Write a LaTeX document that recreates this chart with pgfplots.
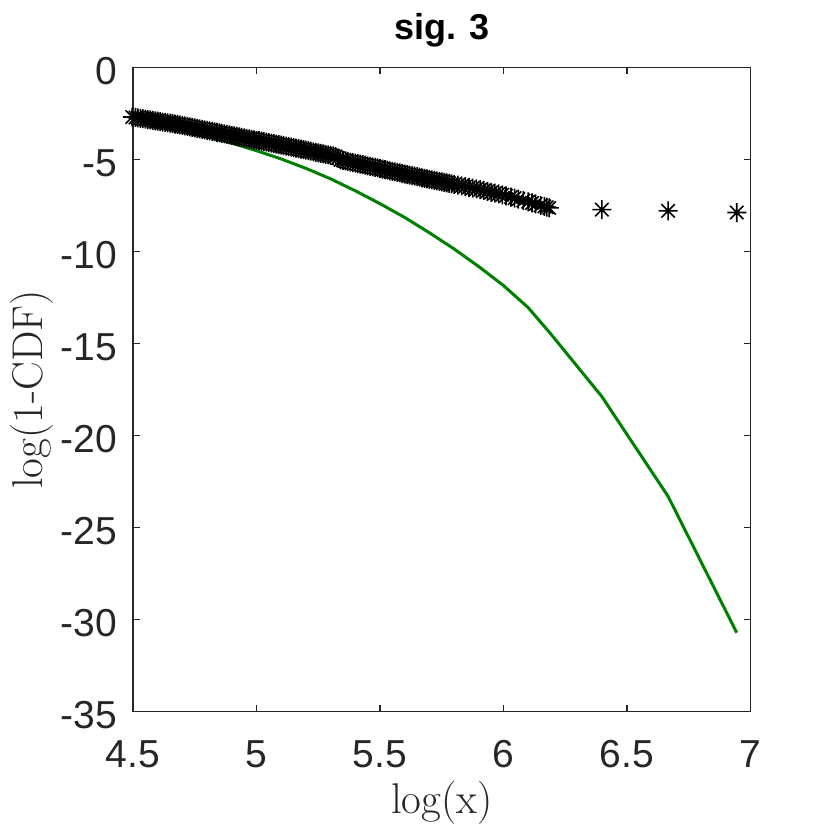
\documentclass[border=0pt]{standalone}
\usepackage{pgfplots}
\pgfplotsset{compat=1.18}
\usepackage{fontspec}
\newfontfamily\arial{Liberation Sans}
\definecolor{axgray}{RGB}{38,38,38}
\definecolor{mgreen}{RGB}{0,128,0}
\pgfdeclareplotmark{mstar}{%
 \pgfpathmoveto{\pgfqpoint{0pt}{\pgfplotmarksize}}\pgfpathlineto{\pgfqpoint{0pt}{-\pgfplotmarksize}}%
 \pgfpathmoveto{\pgfqpoint{\pgfplotmarksize}{0pt}}\pgfpathlineto{\pgfqpoint{-\pgfplotmarksize}{0pt}}%
 \pgfpathmoveto{\pgfqpoint{0.7\pgfplotmarksize}{0.7\pgfplotmarksize}}\pgfpathlineto{\pgfqpoint{-0.7\pgfplotmarksize}{-0.7\pgfplotmarksize}}%
 \pgfpathmoveto{\pgfqpoint{-0.7\pgfplotmarksize}{0.7\pgfplotmarksize}}\pgfpathlineto{\pgfqpoint{0.7\pgfplotmarksize}{-0.7\pgfplotmarksize}}%
 \pgfusepathqstroke}
\begin{document}
\begin{tikzpicture}
\begin{axis}[
 at={(0,0)}, anchor=south west,
 scale only axis, width=308.8bp, height=322.1bp,
 xmin=4.5, xmax=7, ymin=-35, ymax=0,
 clip=false,
 xtick={4.5,5,5.5,6,6.5,7}, xticklabels={4.5,5,5.5,6,6.5,7},
 ytick={-35,-30,-25,-20,-15,-10,-5,0}, yticklabels={-35,-30,-25,-20,-15,-10,-5,0},
 tick align=inside, xtick pos=both, ytick pos=both,
 major tick length=3.3bp,
 axis line style={axgray, line width=0.65bp},
 every tick/.style={axgray, line width=0.65bp},
 tick label style={font=\arial\fontsize{19.5bp}{23bp}\selectfont, text=axgray},
 xticklabel style={anchor=base, yshift=-27.8bp},
 yticklabel style={anchor=east, inner sep=0pt, xshift=-7.65bp, yshift=-1.8bp},
 title={sig. 3},
 title style={font=\arial\bfseries\fontsize{18bp}{21bp}\selectfont, at={(axis description cs:0.5,1)}, anchor=base, yshift=8bp, inner sep=0pt},
 xlabel={log(x)},
 ylabel={log(1-CDF)},
 xlabel style={font=\fontsize{21.5bp}{25bp}\selectfont, text=axgray, at={(axis description cs:0.5,-0.1573)}, anchor=base, inner sep=0pt},
 ylabel style={font=\fontsize{21.5bp}{25bp}\selectfont, text=axgray, at={(axis description cs:-0.1462,0.5)}, anchor=base, inner sep=0pt},
]
\addplot[only marks, mark=mstar, mark size=4.75bp, mark options={line width=0.8bp, black}] table {
x y
4.497 -2.690
4.51 -2.713
4.52 -2.735
4.53 -2.758
4.54 -2.781
4.55 -2.803
4.56 -2.826
4.57 -2.848
4.58 -2.871
4.59 -2.894
4.60 -2.916
4.61 -2.939
4.62 -2.962
4.63 -2.984
4.64 -3.007
4.65 -3.029
4.66 -3.052
4.67 -3.075
4.68 -3.097
4.69 -3.120
4.70 -3.147
4.71 -3.174
4.72 -3.201
4.73 -3.229
4.74 -3.256
4.75 -3.283
4.76 -3.310
4.77 -3.337
4.78 -3.364
4.79 -3.391
4.80 -3.419
4.81 -3.446
4.82 -3.473
4.83 -3.500
4.84 -3.527
4.85 -3.554
4.86 -3.581
4.87 -3.609
4.88 -3.636
4.89 -3.663
4.90 -3.690
4.91 -3.716
4.92 -3.743
4.93 -3.769
4.94 -3.795
4.95 -3.821
4.96 -3.848
4.97 -3.874
4.98 -3.900
4.99 -3.926
5.00 -3.953
5.01 -3.979
5.02 -4.005
5.03 -4.031
5.04 -4.058
5.05 -4.084
5.06 -4.110
5.07 -4.138
5.08 -4.165
5.09 -4.193
5.10 -4.220
5.11 -4.248
5.12 -4.275
5.13 -4.303
5.14 -4.330
5.15 -4.358
5.16 -4.385
5.17 -4.413
5.18 -4.440
5.19 -4.468
5.20 -4.495
5.21 -4.523
5.22 -4.550
5.23 -4.578
5.24 -4.606
5.25 -4.634
5.26 -4.662
5.27 -4.690
5.28 -4.718
5.29 -4.746
5.30 -4.774
5.31 -4.802
5.32 -4.830
5.33 -4.930
5.34 -5.020
5.35 -5.049
5.36 -5.078
5.37 -5.107
5.38 -5.136
5.39 -5.165
5.40 -5.194
5.41 -5.223
5.42 -5.252
5.43 -5.281
5.44 -5.310
5.45 -5.340
5.46 -5.370
5.47 -5.400
5.48 -5.430
5.49 -5.460
5.50 -5.490
5.51 -5.520
5.52 -5.550
5.53 -5.580
5.54 -5.610
5.55 -5.640
5.56 -5.670
5.57 -5.700
5.58 -5.730
5.59 -5.760
5.60 -5.790
5.61 -5.820
5.62 -5.850
5.63 -5.880
5.64 -5.908
5.65 -5.935
5.66 -5.963
5.67 -5.991
5.68 -6.018
5.69 -6.046
5.70 -6.074
5.71 -6.101
5.72 -6.129
5.73 -6.157
5.74 -6.184
5.75 -6.212
5.76 -6.240
5.77 -6.267
5.78 -6.295
5.79 -6.323
5.80 -6.350
5.815 -6.39
5.83 -6.43
5.845 -6.47
5.86 -6.51
5.875 -6.55
5.89 -6.59
5.905 -6.635
5.92 -6.68
5.935 -6.73
5.95 -6.78
5.965 -6.82
5.98 -6.87
5.995 -6.915
6.01 -6.97
6.03 -7.04
6.045 -7.10
6.06 -7.15
6.08 -7.23
6.10 -7.30
6.115 -7.36
6.13 -7.41
6.15 -7.49
6.165 -7.55
6.175 -7.59
6.185 -7.63
6.398 -7.72
6.666 -7.79
6.944 -7.88
};
\addplot[mgreen, line width=1.5bp, mark=none] table {
x y
4.50 -2.73
4.60 -3.03
4.70 -3.37
4.80 -3.73
4.90 -4.11
5.00 -4.52
5.10 -4.97
5.20 -5.48
5.30 -6.05
5.40 -6.70
5.50 -7.40
5.60 -8.15
5.70 -8.98
5.80 -9.86
5.90 -10.82
6.00 -11.85
6.10 -13.05
6.189 -14.44
6.398 -17.88
6.666 -23.30
6.944 -30.71
};
\end{axis}
\pgfresetboundingbox
\path[use as bounding box] (-66.5bp,-59.15bp) rectangle (348.5bp,355.85bp);
\end{tikzpicture}
\end{document}
